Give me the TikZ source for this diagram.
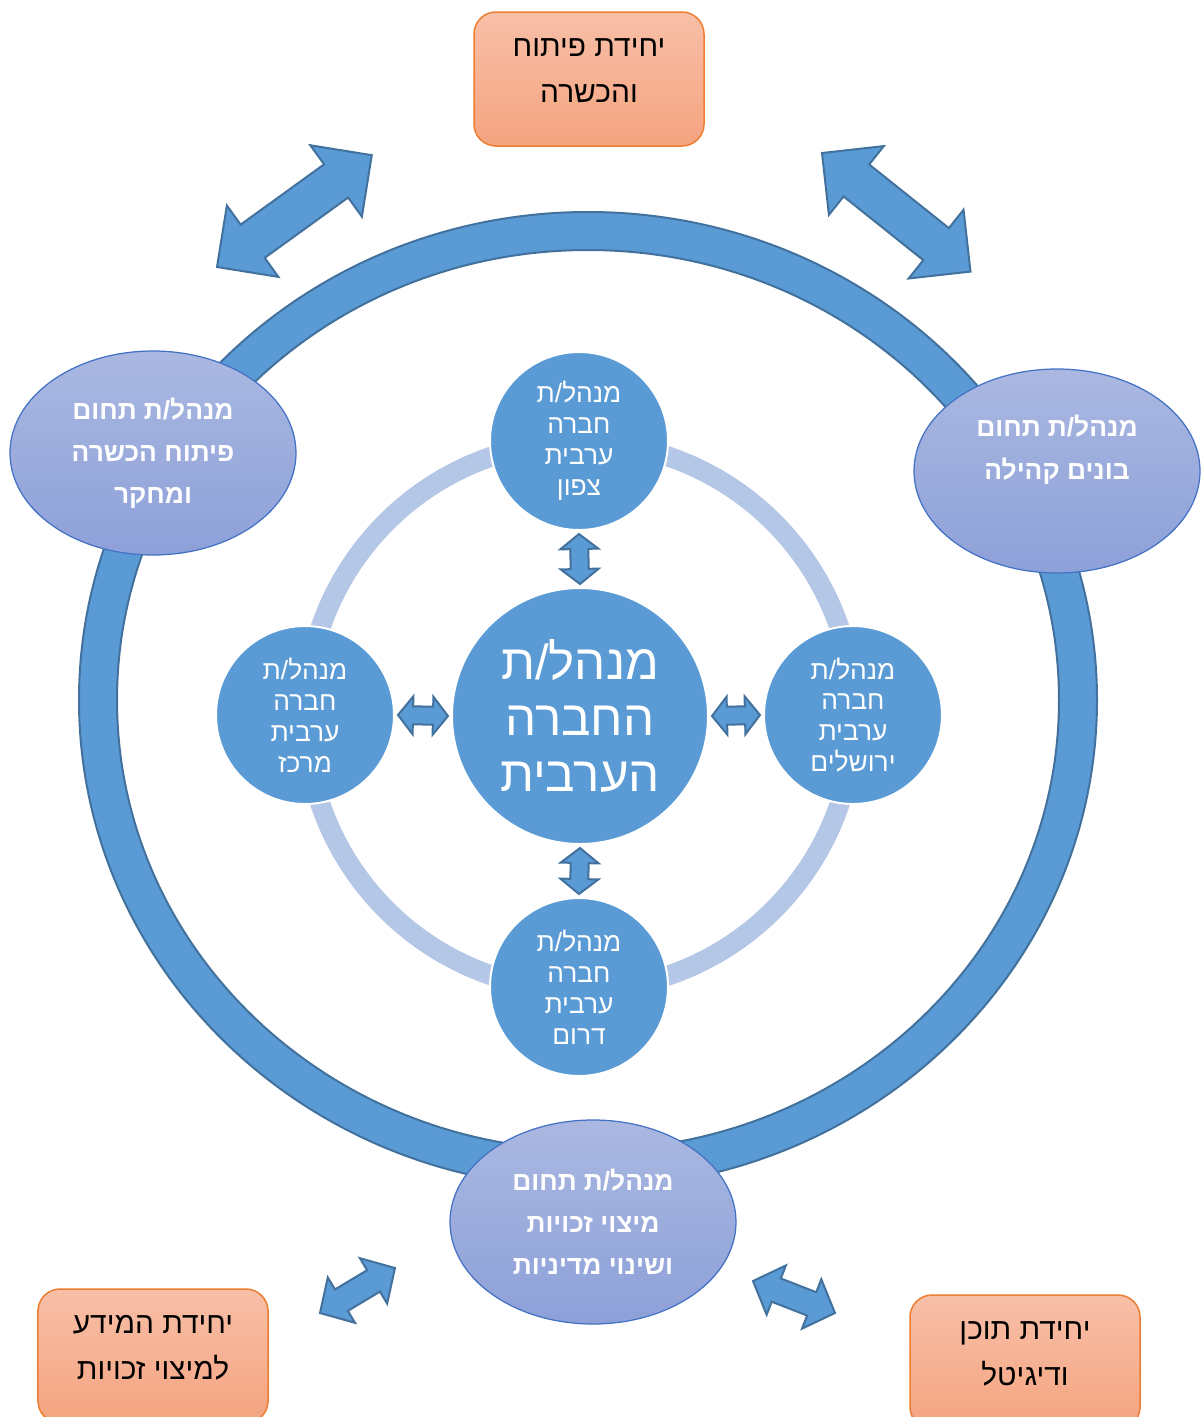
\documentclass[tikz,border=0pt]{standalone}
\usepackage{fontspec}
\usetikzlibrary{shapes.geometric}
\newfontfamily\hebfont[Script=Hebrew]{Liberation Sans}
\TeXXeTstate=1

\definecolor{mainblue}{HTML}{5B9BD5}
\definecolor{edgeblue}{HTML}{41719C}
\definecolor{lightring}{HTML}{B4C7E7}
\definecolor{elltop}{HTML}{AAB8E1}
\definecolor{ellbot}{HTML}{8DA0D8}
\definecolor{elledge}{HTML}{4472C4}
\definecolor{boxtop}{HTML}{F8BFA8}
\definecolor{boxbot}{HTML}{F4A47F}
\definecolor{boxedge}{HTML}{ED7D31}

\newcommand{\heb}[1]{\beginR #1\endR}

% block double arrow from one point to another (sizes in px)
\newdimen\arrdx
\newdimen\arrdy
\newcommand{\blockarrow}[5]{%
  \path (#1) coordinate (ba1) (#2) coordinate (ba2);%
  \pgfextractx{\arrdx}{\pgfpointdiff{\pgfpointanchor{ba1}{center}}{\pgfpointanchor{ba2}{center}}}%
  \pgfextracty{\arrdy}{\pgfpointdiff{\pgfpointanchor{ba1}{center}}{\pgfpointanchor{ba2}{center}}}%
  \pgfmathsetmacro\arrlen{veclen(\arrdx,\arrdy)/0.569055}%
  \pgfmathsetmacro\arrang{atan2(\arrdy,\arrdx)}%
  \begin{scope}[shift={(ba1)}, rotate=\arrang, x=0.2mm, y=0.2mm]
    \draw[blockarr] (0,0) -- (#5,#4/2) -- (#5,#3/2) -- (\arrlen-#5,#3/2)
      -- (\arrlen-#5,#4/2) -- (\arrlen,0) -- (\arrlen-#5,-#4/2)
      -- (\arrlen-#5,-#3/2) -- (#5,-#3/2) -- (#5,-#4/2) -- cycle;
  \end{scope}%
}

\tikzset{
  unitbox/.style={rectangle, rounded corners=4.4mm, minimum width=46mm,
    minimum height=26.8mm, inner sep=0pt, draw=boxedge, line width=0.3mm,
    top color=boxtop, bottom color=boxbot, text=black, align=center,
    font=\hebfont\fontsize{17}{26}\selectfont},
  fieldell/.style={ellipse, minimum width=57.2mm, minimum height=40.8mm,
    inner sep=0pt, draw=elledge, line width=0.25mm, top color=elltop,
    bottom color=ellbot, text=white, align=center,
    font=\hebfont\bfseries\fontsize{15}{24}\selectfont},
  regcirc/.style={circle, minimum size=35.6mm, inner sep=0pt, outer sep=0.8mm,
    fill=mainblue, draw=white, line width=0.4mm, text=white, align=center,
    font=\hebfont\fontsize{15}{17.6}\selectfont},
  maincirc/.style={regcirc, minimum size=51.2mm,
    font=\hebfont\fontsize{28}{32}\selectfont},
  blockarr/.style={fill=mainblue, draw=edgeblue, line width=0.4mm, line join=miter},
  bigring/.style={fill=mainblue, draw=edgeblue, line width=0.4mm, even odd rule},
  smallring/.style={draw=lightring, line width=4mm}
}

\begin{document}
\begin{tikzpicture}[x=0.2mm, y=-0.2mm]
  \path[use as bounding box, clip] (0,0) rectangle (1201,1417);

  % outer ring
  \coordinate (ringc) at (588,700);
  \draw[bigring] (ringc) ellipse [x radius=509, y radius=488]
                 (ringc) ellipse [x radius=471, y radius=450];

  % inner ring and circles
  \coordinate (hub) at (580,716);
  \draw[smallring] (hub) circle [radius=274];

  \node[maincirc] (mgr) at (hub) {\heb{מנהל/ת}\\\heb{החברה}\\\heb{הערבית}};
  \node[regcirc] (regN) at (579,441) {\heb{מנהל/ת}\\\heb{חברה}\\\heb{ערבית}\\\heb{צפון}};
  \node[regcirc] (regC) at (305,715) {\heb{מנהל/ת}\\\heb{חברה}\\\heb{ערבית}\\\heb{מרכז}};
  \node[regcirc] (regJ) at (853,715) {\heb{מנהל/ת}\\\heb{חברה}\\\heb{ערבית}\\\heb{ירושלים}};
  \node[regcirc] (regS) at (579,987) {\heb{מנהל/ת}\\\heb{חברה}\\\heb{ערבית}\\\heb{דרום}};

  \blockarrow{regN.south}{mgr.north}{18}{38}{15}
  \blockarrow{mgr.south}{regS.north}{18}{38}{15}
  \blockarrow{regC.east}{mgr.west}{18}{38}{15}
  \blockarrow{mgr.east}{regJ.west}{18}{38}{15}

  % fields on the outer ring
  \node[fieldell] (train) at (153,453) {\heb{מנהל/ת תחום}\\\heb{פיתוח הכשרה}\\\heb{ומחקר}};
  \node[fieldell] (build) at (1057,471) {\heb{מנהל/ת תחום}\\\heb{בונים קהילה}\\[3pt]\mbox{}};
  \node[fieldell] (rights) at (593,1222) {\heb{מנהל/ת תחום}\\\heb{מיצוי זכויות}\\\heb{ושינוי מדיניות}};

  % units
  \node[unitbox] (dev) at (589,79) {\heb{יחידת פיתוח}\\\heb{והכשרה}\\[-16pt]\mbox{}};
  \node[unitbox] (info) at (153,1356) {\heb{יחידת המידע}\\\heb{למיצוי זכויות}\\[-16pt]\mbox{}};
  \node[unitbox] (media) at (1025,1362) {\heb{יחידת תוכן}\\\heb{ודיגיטל}\\[-16pt]\mbox{}};

  \coordinate (a1s) at (217,267);
  \coordinate (a1e) at (372,155);
  \coordinate (a2s) at (822,153);
  \coordinate (a2e) at (971,272);
  \coordinate (a3s) at (320,1313);
  \coordinate (a3e) at (395,1268);
  \coordinate (a4s) at (753,1281);
  \coordinate (a4e) at (835,1313);

  \blockarrow{a1s}{a1e}{41}{88}{44}
  \blockarrow{a2s}{a2e}{41}{88}{44}
  \blockarrow{a3s}{a3e}{25}{53}{25}
  \blockarrow{a4s}{a4e}{25}{53}{25}
\end{tikzpicture}
\end{document}
